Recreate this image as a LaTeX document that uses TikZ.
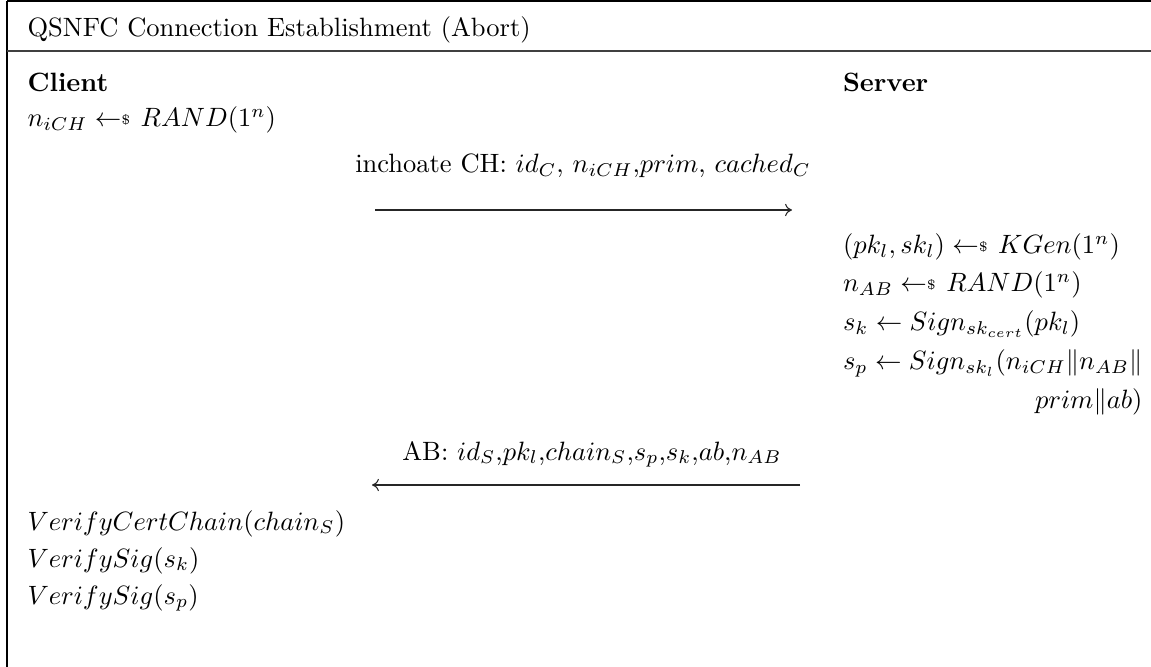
\documentclass[tikz,border=0pt]{standalone}
\usetikzlibrary{arrows.meta}
% uniform sampling arrow: the dollar sign sits right at the tail
\newcommand{\smp}{\mathrel{{\leftarrow}{\vcenter{\hbox{\tiny\rmfamily\upshape\$}}}\mkern2mu}}
\tikzset{
  txt/.style={inner sep=0pt, anchor=base west},
  txtr/.style={inner sep=0pt, anchor=base east},
  lbl/.style={inner sep=0pt, anchor=base},
  msg/.style={line width=0.4pt, black!85, -{To[length=2.6pt,width=4.6pt]}},
  frame/.style={line width=0.5pt, black},
}
\begin{document}
\begin{tikzpicture}[x=0.3774pt, y=-0.3774pt]
  \useasboundingbox (0,0) rectangle (1151,667);
  % box outline and header rule
  \draw[frame] (7,1) -- (1151,1);
  \draw[frame] (7,1) -- (7,667);
  \draw[line width=0.7pt, black!75] (7,51) -- (1151,51);
  % header
  \node[txt] (title) at (27,37) {QSNFC Connection Establishment (Abort)};
  % server computations (right column set flush to the longest line)
  \node[txtr] (s4) at (1143,370) {$s_p \leftarrow Sign_{sk_l}(n_{iCH}\|n_{AB}\|$};
  \coordinate (s1pos) at (0,254);
  \coordinate (s2pos) at (0,292);
  \coordinate (s3pos) at (0,331);
  \coordinate (s5pos) at (0,409);
  \coordinate (hdpos) at (0,92);
  \node[txt] (s1) at (s4.west |- s1pos) {$(pk_l, sk_l) \smp KGen(1^n)$};
  \node[txt] (s2) at (s4.west |- s2pos) {$n_{AB} \smp RAND(1^n)$};
  \node[txt] (s3) at (s4.west |- s3pos) {$s_k \leftarrow Sign_{sk_{cert}}(pk_l)$};
  \node[txtr] (s5) at (s4.east |- s5pos) {$prim\|ab)$};
  % parties
  \node[txt] (client) at (27,92) {\textbf{Client}};
  \node[txt] (server) at (s4.west |- hdpos) {\textbf{Server}};
  % client: nonce
  \node[txt] (c1) at (27,127) {$n_{iCH} \smp RAND(1^n)$};
  % first message
  \coordinate (m1s) at (375,210);
  \coordinate (m1e) at (792,210);
  \node[lbl] (m1l) at (583,173) {inchoate CH: $id_C$, $n_{iCH}$,$prim$, $cached_C$};
  \draw[msg] (m1s) -- (m1e);
  % second message
  \coordinate (m2s) at (800,485);
  \coordinate (m2e) at (372,485);
  \node[lbl] (m2l) at (592,460) {AB: $id_S$,$pk_l$,$chain_S$,$s_p$,$s_k$,$ab$,$n_{AB}$};
  \draw[msg] (m2s) -- (m2e);
  % client verification
  \node[txt] (c2) at (27,530) {$VerifyCertChain(chain_S)$};
  \node[txt] (c3) at (27,567) {$VerifySig(s_k)$};
  \node[txt] (c4) at (27,604) {$VerifySig(s_p)$};
\end{tikzpicture}
\end{document}
